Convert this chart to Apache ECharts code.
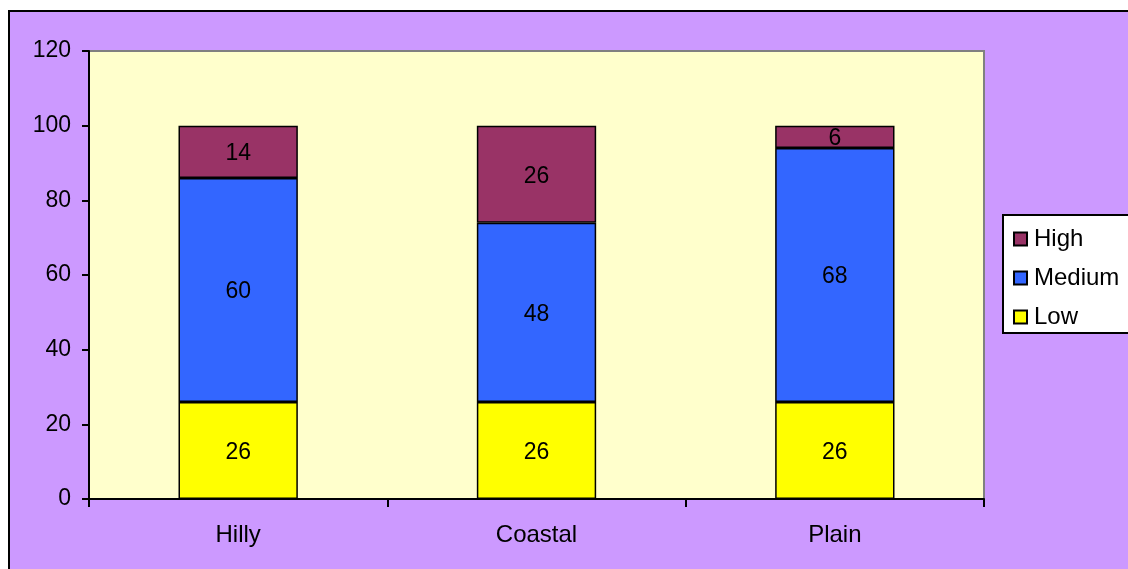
<!DOCTYPE html>
<html>
<head>
<meta charset="utf-8">
<script src="https://cdn.jsdelivr.net/npm/echarts@6/dist/echarts.min.js"></script>
<style>
html,body{margin:0;padding:0;background:#ffffff;overflow:hidden;}
#frame{position:absolute;left:8px;top:10px;width:1200px;height:700px;background:#CC99FF;border-left:2px solid #000;border-top:2px solid #000;}
#chart{position:absolute;left:0;top:0;width:1128px;height:569px;}
</style>
</head>
<body>
<div id="frame"></div>
<div id="chart"></div>
<script>
const categories = ['Hilly', 'Coastal', 'Plain'];
const lowValues = [26, 26, 26];
const mediumValues = [60, 48, 68];
const highValues = [14, 26, 6];
const yTicks = [0, 20, 40, 60, 80, 100, 120];

const font = 'Liberation Sans, Arial, sans-serif';
const chart = echarts.init(document.getElementById('chart'));
function seg(name, data, color) {
  return {
    name: name, type: 'bar', stack: 'total', data: data, barWidth: '40%',
    itemStyle: { color: color, borderColor: '#000', borderWidth: 1.5 },
    label: { show: true, position: 'inside', offset: [0, 2], color: '#000', fontSize: 23, fontFamily: font },
    emphasis: { disabled: true }
  };
}
chart.setOption({
  backgroundColor: 'transparent',
  animation: false,
  grid: {
    left: 89, right: 144, top: 51, bottom: 70,
    show: true, backgroundColor: '#FFFFCC', borderColor: '#808080', borderWidth: 2
  },
  legend: {
    orient: 'vertical', left: 1003, top: 215,
    data: ['High', 'Medium', 'Low'],
    backgroundColor: '#fff', borderColor: '#000', borderWidth: 2,
    padding: [12, 14, 4, 10],
    itemWidth: 13, itemHeight: 13, itemGap: 15,
    icon: 'rect',
    textStyle: { fontSize: 24, fontFamily: font, color: '#000', lineHeight: 24, padding: [0, 0, 0, 2] }
  },
  xAxis: {
    type: 'category', data: categories,
    axisLine: { lineStyle: { color: '#000', width: 2 } },
    axisTick: { show: true, length: 8, lineStyle: { color: '#000', width: 2 } },
    axisLabel: { color: '#000', fontSize: 24, fontFamily: font, margin: 24 },
    splitLine: { show: false }
  },
  yAxis: {
    type: 'value', min: yTicks[0], max: yTicks[yTicks.length - 1], interval: 20,
    axisLine: { show: true, lineStyle: { color: '#000', width: 2 } },
    axisTick: { show: true, length: 7, lineStyle: { color: '#000', width: 2 } },
    axisLabel: { color: '#000', fontSize: 23, fontFamily: font, margin: 18 },
    splitLine: { show: false }
  },
  series: [
    seg('Low', lowValues, '#FFFF00'),
    seg('Medium', mediumValues, '#3366FF'),
    seg('High', highValues, '#993366')
  ]
});
</script>
</body>
</html>
